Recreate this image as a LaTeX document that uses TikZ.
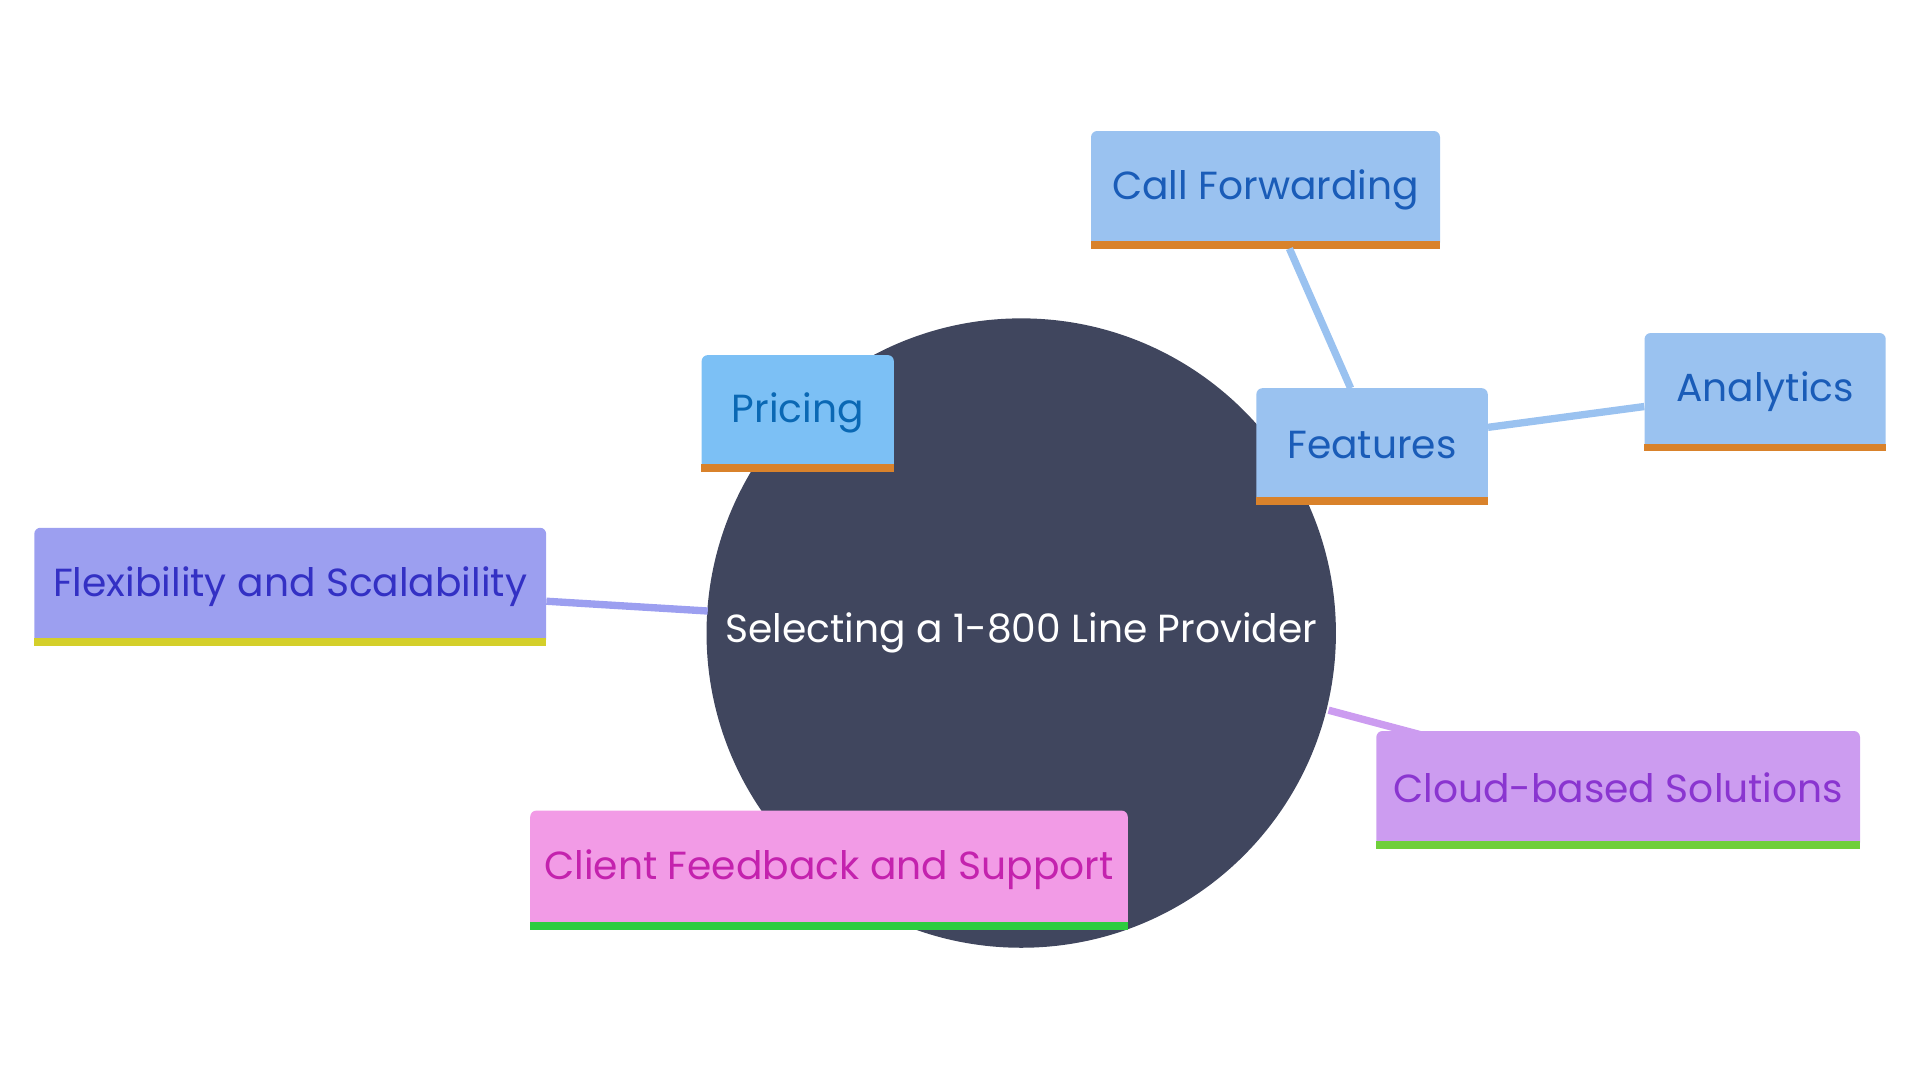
\documentclass[tikz,border=0pt]{standalone}
\usepackage{fontspec}
\setmainfont{Poppins}
\definecolor{circ}{HTML}{40465E}
\definecolor{fblue}{HTML}{9AC2F0}\definecolor{tblue}{HTML}{1A5CB8}
\definecolor{fprice}{HTML}{7CC0F5}\definecolor{tprice}{HTML}{0A68B4}
\definecolor{fflex}{HTML}{9C9FF0}\definecolor{tflex}{HTML}{3330C4}
\definecolor{fcloud}{HTML}{CC9CF0}\definecolor{tcloud}{HTML}{8A35D0}
\definecolor{fclient}{HTML}{F29BE6}\definecolor{tclient}{HTML}{C422AE}
\definecolor{borange}{HTML}{D9822B}\definecolor{byellow}{HTML}{D4CF2A}
\definecolor{bgreen}{HTML}{6FCF3A}\definecolor{bgreen2}{HTML}{2ECC40}
\tikzset{box/.style={rounded corners=5pt,inner sep=0pt,font=\fontsize{32}{36}\selectfont},
 link/.style={line width=6pt}}
\newcommand{\mybox}[9]{% name, x1,y1,x2,y2, fill, text, bar, label
 \node[box,fill=#6,text=#7,minimum width=#4pt-#2pt,minimum height=#5pt-#3pt] (#1) at ({(#2+#4)/2},{(#3+#5)/2}) {\raisebox{3pt}{#9}};
 \fill[#8] (#1.south west) rectangle ([yshift=6pt]#1.south east);}
\begin{document}
\begin{tikzpicture}[x=1pt,y=-1pt]
\useasboundingbox (0,0) rectangle (1568,882);
\node[circle,fill=circ,minimum size=514pt,inner sep=0pt,text=white,font=\fontsize{32}{36}\selectfont] (c) at (834,517) {Selecting a 1-800 Line Provider};
\coordinate (cf) at (578,499);
\coordinate (cc) at (1085,580);
\mybox{flex}{28}{431}{446}{527}{fflex}{tflex}{byellow}{Flexibility and Scalability}
\mybox{cloud}{1124}{597}{1519}{693}{fcloud}{tcloud}{bgreen}{Cloud-based Solutions}
\draw[link,fflex] (flex.east |- 0,491) -- (cf);
\draw[link,fcloud] (cc) -- (1160,600);
\mybox{feat}{1026}{317}{1215}{412}{fblue}{tblue}{borange}{Features}
\mybox{call}{891}{107}{1176}{203}{fblue}{tblue}{borange}{Call Forwarding}
\mybox{ana}{1343}{272}{1540}{368}{fblue}{tblue}{borange}{Analytics}
\draw[link,fblue] (1103,317) -- (1053,203);
\draw[link,fblue] (feat.east |- 0,349) -- (ana.west |- 0,332);
\mybox{price}{573}{290}{730}{385}{fprice}{tprice}{borange}{Pricing}
\mybox{client}{433}{662}{921}{759}{fclient}{tclient}{bgreen2}{Client Feedback and Support}
\end{tikzpicture}
\end{document}
